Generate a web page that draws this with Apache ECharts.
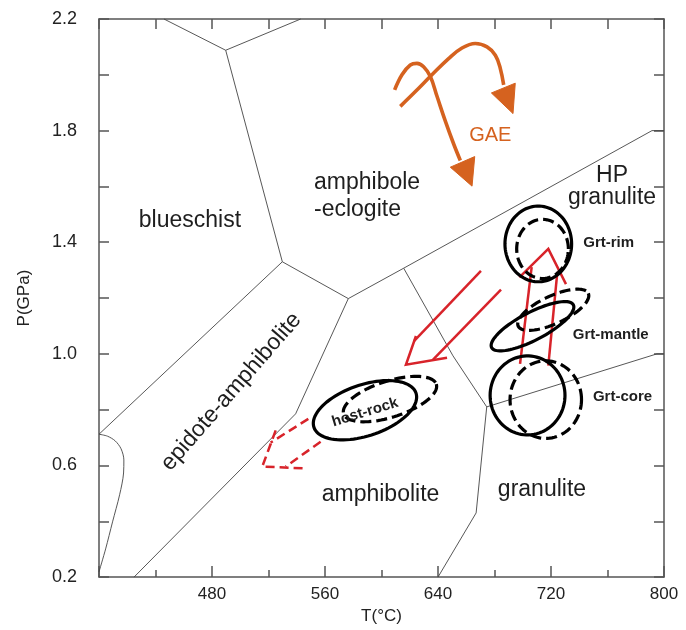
<!DOCTYPE html>
<html><head><meta charset="utf-8">
<script src="https://cdn.jsdelivr.net/npm/echarts@6/dist/echarts.min.js"></script>
<style>html,body{margin:0;padding:0;background:#fff}#c{width:686px;height:630px}</style>
</head><body><div id="c"></div>
<script>
// ---------- tick labels ----------
const xTickLabels = [480, 560, 640, 720, 800];
const yTickLabels = [0.2, 0.6, 1.0, 1.4, 1.8, 2.2];

// ---------- phase boundaries [T(°C), P(GPa)] ----------
const bndTop = [[446, 2.2], [489.7, 2.088], [542.8, 2.2]];
const bndBlueschistRight = [[489.7, 2.088], [529.8, 1.33], [576.5, 1.198]];
const bndBlueschistLow = [[529.8, 1.33], [400, 0.712]];
const bndHPGranulite = [[576.5, 1.198], [615.7, 1.307], [791.5, 1.8], [800, 1.8]];
const bndEpAmph = [[576.5, 1.198], [539.2, 0.785], [424.8, 0.2]];
const bndAmphGran = [[615.7, 1.307], [650.6, 0.993], [674.5, 0.81], [667, 0.43], [640, 0.2]];
const bndGranHP = [[674.5, 0.81], [795, 1.0], [800, 1.0]];
const bndLeftCurve = [[400, 0.712], [406, 0.705], [411.5, 0.688], [415.6, 0.660], [417.6, 0.620], [417.4, 0.573], [414.6, 0.495], [409.6, 0.398], [404.7, 0.301], [400, 0.219]];

// ---------- GAE paths ----------
const gaePath1 = [[613.3, 1.887], [624.0, 1.940], [635.7, 2.000], [647.5, 2.058], [657.0, 2.096], [666.4, 2.112], [674.7, 2.100], [680.6, 2.070], [684.1, 2.023], [686.5, 1.964]];
const gaeHead1 = [[677.8, 1.935], [694.7, 1.970], [693.1, 1.861]];
const gaePath2 = [[609.3, 1.946], [614.5, 2.000], [620.4, 2.035], [625.1, 2.041], [629.8, 2.029], [634.6, 1.994], [639.3, 1.923], [645.2, 1.834], [651.1, 1.752], [655.8, 1.693]];
const gaeHead2 = [[648.7, 1.669], [666.0, 1.707], [664.1, 1.601]];

// ---------- ellipses: [T, P, axis1 dT, axis1 dP, axis2 dT, axis2 dP] ----------
const solidEllipses = [
  [711.0, 1.394, 23.6, 0, 0, 0.1357],          // Grt-rim
  [706.9, 1.099, 28.9, 0.0768, 4.65, -0.0437],  // Grt-mantle
  [703.4, 0.851, 26.5, 0, 0, 0.1416],           // Grt-core
  [588.3, 0.798, 36.1, 0.0619, 5.92, -0.0864]   // host-rock
];
const dashedEllipses = [
  [714.0, 1.376, 18.3, 0, 0, 0.106],
  [721.6, 1.158, 24.8, 0.0588, 4.25, -0.0447],
  [716.3, 0.836, 25.3, 0, 0, 0.139],
  [606.0, 0.838, 32.8, 0.0533, 4.0, -0.0616]
];

// ---------- red P-T path arrows ----------
const redSolidLines = [
  [[670.4, 1.297], [623.0, 1.046]],
  [[684.6, 1.230], [636.5, 0.979]],
  [[624.4, 1.064], [617.3, 0.961], [646.4, 0.986]],
  [[698.1, 0.964], [706.3, 1.311]],
  [[718.1, 0.958], [724.5, 1.294]],
  [[697.6, 1.274], [718.1, 1.376], [730.6, 1.250]]
];
const redDashedLines = [
  [[548.2, 0.767], [521.5, 0.682]],
  [[556.9, 0.685], [532.2, 0.596]],
  [[525.1, 0.726], [515.6, 0.596], [544.4, 0.590]]
];

// ---------- text labels ----------
const regionTexts = ['blueschist', 'amphibole\n-eclogite', 'HP\ngranulite', 'epidote-amphibolite', 'amphibolite', 'granulite'];
const regionT = [464.4, 552.2, 763.2, 493.7, 599.3, 713.6];
const regionP = [1.478, 1.565, 1.600, 0.864, 0.494, 0.515];
const sampleTexts = ['Grt-rim', 'Grt-mantle', 'Grt-core', 'host-rock'];
const sampleT = [760.8, 762.3, 770.6, 588.3];
const sampleP = [1.398, 1.067, 0.845, 0.790];
const gaeText = ['GAE'];
const gaeT = [677.0];
const gaeP = [1.781];

// ---------- styles ----------
const FONT = 'Liberation Sans, Arial, Helvetica, sans-serif';
const AXC = '#555';
const BND = '#444';
const RED = '#d8232a';
const ORANGE = '#d5621f';
const regionStyle = [
  {align: 'center', rot: 0, lh: 26},
  {align: 'left', rot: 0, lh: 27},
  {align: 'center', rot: 0, lh: 22},
  {align: 'center', rot: 49 * Math.PI / 180, lh: 26},
  {align: 'center', rot: 0, lh: 26},
  {align: 'center', rot: 0, lh: 26}
];
const sampleRot = [0, 0, 0, 17 * Math.PI / 180];

function lineSeries(data, color, width, dash, smooth) {
  return {
    type: 'line', data: data, symbol: 'none', smooth: smooth || false,
    silent: true, animation: false, clip: false, z: 3,
    lineStyle: {color: color, width: width, type: dash || 'solid', cap: 'butt', join: 'miter'}
  };
}

function ellipseSeries(list, dash) {
  return {
    type: 'custom', data: list, silent: true, animation: false, clip: false, z: 4,
    renderItem: function (params, api) {
      const v = [0, 1, 2, 3, 4, 5].map(k => api.value(k));
      const pts = [];
      const N = 90;
      for (let k = 0; k < N; k++) {
        const t = 2 * Math.PI * k / N;
        pts.push(api.coord([v[0] + Math.cos(t) * v[2] + Math.sin(t) * v[4],
                            v[1] + Math.cos(t) * v[3] + Math.sin(t) * v[5]]));
      }
      return {type: 'polygon', shape: {points: pts},
        style: {fill: 'none', stroke: '#000', lineWidth: 3.2, lineDash: dash ? [11, 5] : null}};
    }
  };
}

function triSeries(tris, color) {
  return {
    type: 'custom', data: tris.map((t, i) => [t[0][0], t[0][1], i]), silent: true, animation: false, clip: false, z: 5,
    renderItem: function (params, api) {
      const tri = tris[params.dataIndex];
      return {type: 'polygon', shape: {points: tri.map(p => api.coord(p))}, style: {fill: color, stroke: color, lineWidth: 1}};
    }
  };
}

function textSeries(texts, Ts, Ps, styler) {
  return {
    type: 'custom', data: texts.map((t, i) => [Ts[i], Ps[i]]), silent: true, animation: false, clip: false, z: 6,
    renderItem: function (params, api) {
      const i = params.dataIndex;
      const p = api.coord([api.value(0), api.value(1)]);
      const s = styler(i);
      return {type: 'text', x: p[0], y: p[1], rotation: s.rot || 0,
        style: {text: texts[i], x: 0, y: 0, fill: s.color, fontSize: s.size, fontFamily: FONT,
          fontWeight: s.weight || 'normal', align: s.align || 'center', verticalAlign: 'middle', lineHeight: s.lh || s.size}};
    }
  };
}

const axisLineStyle = {color: AXC, width: 1.5};
function xAxisCfg(pos, showLabel) {
  return {
    type: 'value', position: pos, min: 400, max: 800, interval: 80,
    axisLine: {show: true, onZero: false, lineStyle: axisLineStyle},
    axisTick: {show: true, inside: true, length: showLabel ? 11 : 10, lineStyle: axisLineStyle},
    minorTick: {show: true, splitNumber: 2, length: showLabel ? 7 : 10, lineStyle: axisLineStyle},
    splitLine: {show: false}, minorSplitLine: {show: false},
    axisLabel: {show: showLabel, margin: 9, fontSize: 17, color: '#222', fontFamily: FONT,
      formatter: v => xTickLabels.indexOf(Math.round(v)) >= 0 ? String(Math.round(v)) : ''},
    name: showLabel ? 'T(°C)' : '', nameLocation: 'middle', nameGap: 28,
    nameTextStyle: {fontSize: 17, color: '#222', fontFamily: FONT}
  };
}
function yAxisCfg(pos, showLabel) {
  return {
    type: 'value', position: pos, min: 0.2, max: 2.2, interval: 0.4,
    axisLine: {show: true, onZero: false, lineStyle: axisLineStyle},
    axisTick: {show: true, inside: true, length: 10, lineStyle: axisLineStyle},
    minorTick: {show: true, splitNumber: 2, length: 10, lineStyle: axisLineStyle},
    splitLine: {show: false}, minorSplitLine: {show: false},
    axisLabel: {show: showLabel, margin: 22, fontSize: 18, color: '#222', fontFamily: FONT,
      formatter: v => {
        const hit = yTickLabels.find(t => Math.abs(t - v) < 1e-6);
        return hit !== undefined ? hit.toFixed(1) : '';
      }},
    name: showLabel ? 'P(GPa)' : '', nameLocation: 'middle', nameRotate: 90, nameGap: 66,
    nameTextStyle: {fontSize: 17, color: '#222', fontFamily: FONT}
  };
}

const series = [
  lineSeries(bndTop, BND, 0.9),
  lineSeries(bndBlueschistRight, BND, 0.9),
  lineSeries(bndBlueschistLow, BND, 0.9),
  lineSeries(bndHPGranulite, BND, 0.9),
  lineSeries(bndEpAmph, BND, 0.9),
  lineSeries(bndAmphGran, BND, 0.9),
  lineSeries(bndGranHP, BND, 0.9),
  lineSeries(bndLeftCurve, BND, 0.9, 'solid', 0.3),
  lineSeries(gaePath1, ORANGE, 3.6, 'solid', 0.4),
  lineSeries(gaePath2, ORANGE, 3.6, 'solid', 0.4),
  triSeries([gaeHead1, gaeHead2], ORANGE),
  ellipseSeries(solidEllipses, false),
  ellipseSeries(dashedEllipses, true)
];
redSolidLines.forEach(l => series.push(lineSeries(l, RED, 2.5)));
redDashedLines.forEach(l => series.push(Object.assign(lineSeries(l, RED, 2.5), {lineStyle: {color: RED, width: 2.5, type: [9, 5]}})));
series.push(textSeries(regionTexts, regionT, regionP, i => ({size: 23, color: '#1e1e1e', align: regionStyle[i].align, rot: regionStyle[i].rot, lh: regionStyle[i].lh})));
series.push(textSeries(sampleTexts, sampleT, sampleP, i => ({size: 15, color: '#1e1e1e', weight: 'bold', rot: sampleRot[i]})));
series.push(textSeries(gaeText, gaeT, gaeP, i => ({size: 20, color: ORANGE})));

const chart = echarts.init(document.getElementById('c'), null, {renderer: 'canvas'});
chart.setOption({
  animation: false,
  backgroundColor: '#fff',
  grid: {left: 99, right: 22, top: 19, bottom: 46, containLabel: false},
  xAxis: [xAxisCfg('bottom', true), xAxisCfg('top', false)],
  yAxis: [yAxisCfg('left', true), yAxisCfg('right', false)],
  series: series
});
</script>
</body></html>
